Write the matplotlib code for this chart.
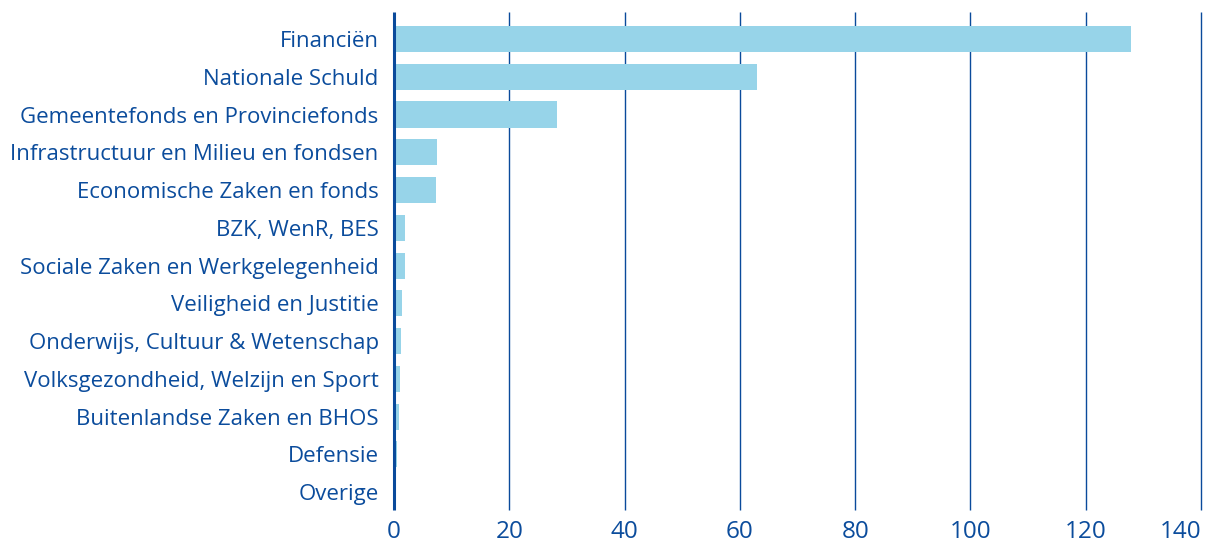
import matplotlib
matplotlib.use('Agg')
import matplotlib.pyplot as plt
import numpy as np

categories = ["Financiën", "Nationale Schuld", "Gemeentefonds en Provinciefonds",
              "Infrastructuur en Milieu en fondsen", "Economische Zaken en fonds",
              "BZK, WenR, BES", "Sociale Zaken en Werkgelegenheid",
              "Veiligheid en Justitie", "Onderwijs, Cultuur & Wetenschap",
              "Volksgezondheid, Welzijn en Sport", "Buitenlandse Zaken en BHOS",
              "Defensie", "Overige"]
values = [127.8, 63.0, 28.3, 7.5, 7.3, 1.9, 1.9, 1.4, 1.2, 1.0, 0.85, 0.5, 0.3]
xticks = [0, 20, 40, 60, 80, 100, 120, 140]

bar_color = '#97d4e9'
line_color = '#0a4a9b'
text_color = '#0b4c9c'

plt.rcParams['font.family'] = ['Open Sans', 'DejaVu Sans']

fig = plt.figure(figsize=(12.18, 5.44), dpi=100)
ax = fig.add_axes([394/1218, 34/544, 807/1218, 498/544])

y = np.arange(len(categories))
ax.barh(y, values, height=0.69, color=bar_color, zorder=2)

# vertical grid lines
ax.vlines(xticks[1:], -0.715, 12.475, color=line_color, linewidth=1.0, zorder=1, clip_on=False)
ax.vlines(0, -0.715, 12.475, color=line_color, linewidth=2.2, zorder=3, clip_on=False)

ax.set_xlim(0, 140)
ax.set_ylim(12.475, -0.715)
ax.set_xticks(xticks)
ax.set_yticks(y)
ax.set_yticklabels(categories)
ax.tick_params(axis='y', length=0, labelsize=16, colors=text_color, pad=11)
ax.tick_params(axis='x', length=0, labelsize=17.5, colors=text_color, pad=7)
# last label sits left of its line so it stays inside the figure
ax.get_xticklabels()[-1].set_ha('right')
for s in ax.spines.values():
    s.set_visible(False)

plt.savefig('out.png', dpi=100)
